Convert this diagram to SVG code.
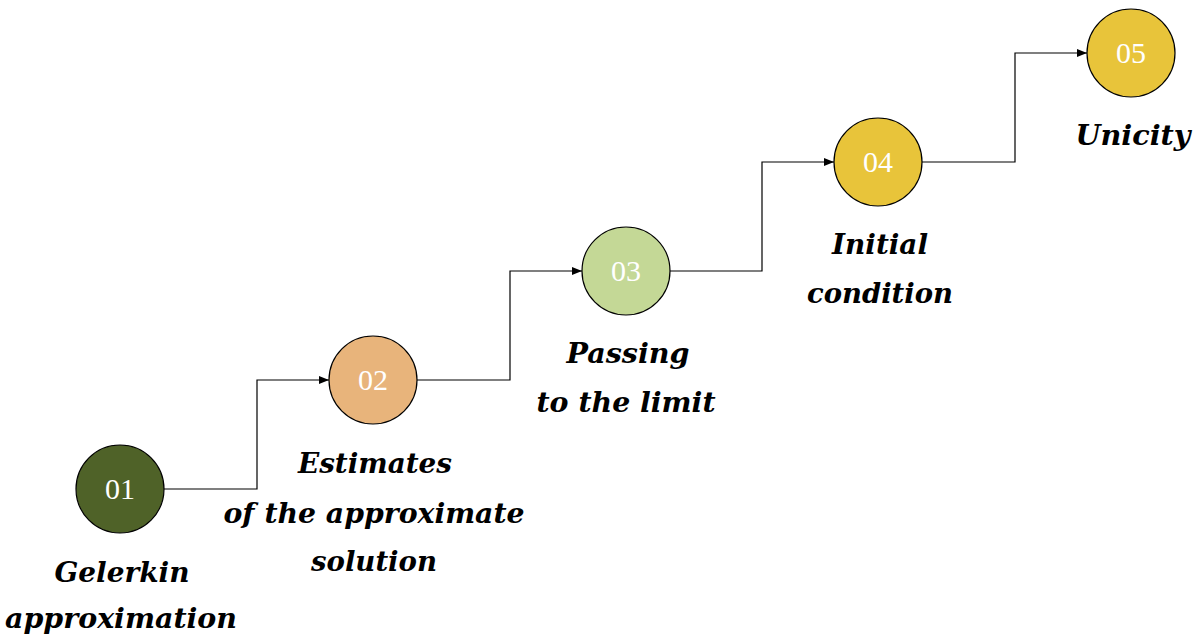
<svg xmlns="http://www.w3.org/2000/svg" width="1199" height="637" viewBox="0 0 1199 637">
<style>
.node{stroke:#000;stroke-width:1.2}
.num{font-family:"Liberation Serif",serif;font-size:30px;fill:#fff;text-anchor:middle}
.lab{font-family:"DejaVu Serif",serif;font-size:27px;font-weight:bold;font-style:italic;fill:#000;text-anchor:middle}
.conn{fill:none;stroke:#000;stroke-width:1.2}
</style>
<defs>
<marker id="arr" markerWidth="10" markerHeight="8" refX="10" refY="4" orient="auto" markerUnits="userSpaceOnUse">
<path d="M0,0 L10,4 L0,8 Z" fill="#000"/>
</marker>
</defs>
<rect width="1199" height="637" fill="#fff"/>
<g id="connectors">
<path class="conn" d="M164,489 H257 V380 H329" marker-end="url(#arr)"/>
<path class="conn" d="M417,380 H510 V271 H582" marker-end="url(#arr)"/>
<path class="conn" d="M670,271 H762 V162 H834" marker-end="url(#arr)"/>
<path class="conn" d="M922,162 H1015 V53 H1087" marker-end="url(#arr)"/>
</g>
<g id="node01">
<circle class="node" cx="120" cy="489" r="44" fill="#4f6228"/>
<text class="num" x="120" y="499">01</text>
<text class="lab" x="122" y="582" textLength="135" lengthAdjust="spacingAndGlyphs">Gelerkin</text>
<text class="lab" x="121" y="628" textLength="232" lengthAdjust="spacingAndGlyphs">approximation</text>
</g>
<g id="node02">
<circle class="node" cx="373" cy="380" r="44" fill="#e8b47b"/>
<text class="num" x="373" y="390">02</text>
<text class="lab" x="375" y="473" textLength="154" lengthAdjust="spacingAndGlyphs">Estimates</text>
<text class="lab" x="374" y="523" textLength="301" lengthAdjust="spacingAndGlyphs">of the approximate</text>
<text class="lab" x="374" y="571" textLength="126" lengthAdjust="spacingAndGlyphs">solution</text>
</g>
<g id="node03">
<circle class="node" cx="626" cy="271" r="44" fill="#c4d896"/>
<text class="num" x="626" y="281">03</text>
<text class="lab" x="628" y="363" textLength="123" lengthAdjust="spacingAndGlyphs">Passing</text>
<text class="lab" x="626" y="412" textLength="179" lengthAdjust="spacingAndGlyphs">to the limit</text>
</g>
<g id="node04">
<circle class="node" cx="878" cy="162" r="44" fill="#e8c43a"/>
<text class="num" x="878" y="172">04</text>
<text class="lab" x="880" y="254" textLength="96" lengthAdjust="spacingAndGlyphs">Initial</text>
<text class="lab" x="880" y="303" textLength="146" lengthAdjust="spacingAndGlyphs">condition</text>
</g>
<g id="node05">
<circle class="node" cx="1131" cy="53" r="44" fill="#e8c43a"/>
<text class="num" x="1131" y="63">05</text>
<text class="lab" x="1133" y="145" textLength="115" lengthAdjust="spacingAndGlyphs">Unicity</text>
</g>
</svg>
